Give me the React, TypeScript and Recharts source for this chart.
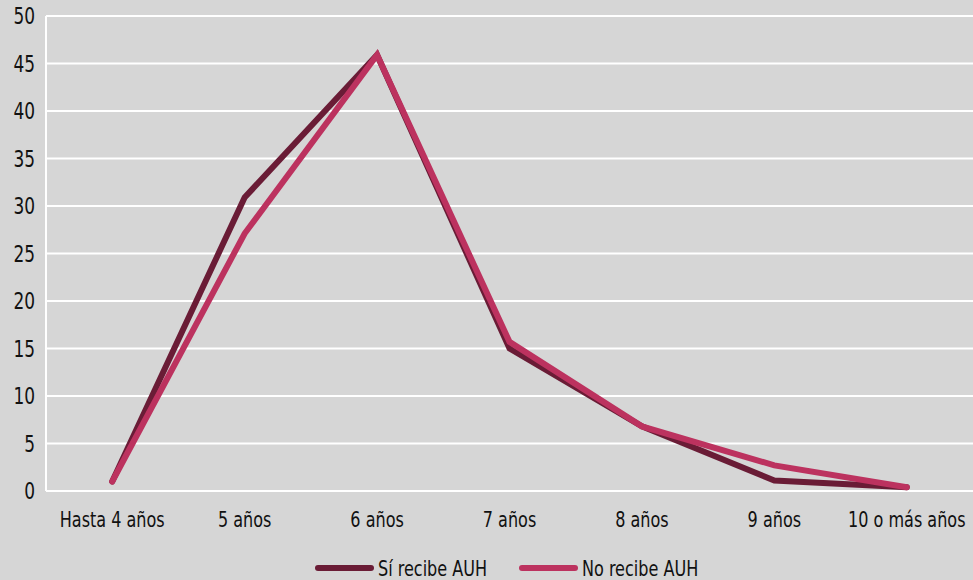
import { LineChart, Line, XAxis, YAxis, CartesianGrid } from 'recharts'

const categories = ['Hasta 4 años', '5 años', '6 años', '7 años', '8 años', '9 años', '10 o más años']
const siRecibe = [1.0, 30.9, 45.9, 15.0, 6.8, 1.1, 0.4]
const noRecibe = [1.0, 27.1, 45.9, 15.7, 6.8, 2.7, 0.4]
const yTicks = [0, 5, 10, 15, 20, 25, 30, 35, 40, 45, 50]
const seriesNames = ['Sí recibe AUH', 'No recibe AUH']

const data = categories.map((c, i) => ({ cat: c, si: siRecibe[i], no: noRecibe[i] }))

const FONT = '"DejaVu Sans Condensed", "DejaVu Sans", sans-serif'
const DARK = '#6a1c36'
const PINK = '#bc325f'

// narrow the condensed font a bit more to look like the original's typeface
function XTick(props: any) {
  const { x, y, payload } = props
  return (
    <text transform={`translate(${x},${y + 36}) scale(0.85,1)`} textAnchor="middle" fontFamily={FONT} fontSize={21} fill="#111">
      {payload.value}
    </text>
  )
}

function YTick(props: any) {
  const { x, y, payload } = props
  return (
    <text transform={`translate(${x - 11},${y + 8}) scale(0.82,1)`} textAnchor="end" fontFamily={FONT} fontSize={23} fill="#111">
      {payload.value}
    </text>
  )
}

function LegendSvg() {
  const items = [
    { label: seriesNames[0], color: DARK, x: 315 },
    { label: seriesNames[1], color: PINK, x: 519 },
  ]
  return (
    <svg width={973} height={40} style={{ position: 'absolute', left: 0, top: 548 }}>
      {items.map((it) => (
        <g key={it.label}>
          <line x1={it.x + 3} y1={20} x2={it.x + 56} y2={20} stroke={it.color} strokeWidth={6} strokeLinecap="round" />
          <text transform={`translate(${it.x + 63},28) scale(0.85,1)`} fontFamily={FONT} fontSize={21} fill="#111">
            {it.label}
          </text>
        </g>
      ))}
    </svg>
  )
}

export default function App() {
  return (
    <div style={{ position: 'absolute', left: 0, top: 0, width: 973, height: 580, background: '#d6d6d6', fontFamily: FONT, fontStretch: 'condensed' }}>
      <LineChart width={973} height={580} data={data} margin={{ top: 16, right: 0, left: 0, bottom: 0 }}>
        <CartesianGrid vertical={false} stroke="#ffffff" strokeWidth={2} />
        <XAxis
          dataKey="cat"
          scale="band"
          axisLine={false}
          tickLine={false}
          tickSize={0}
          tickMargin={0}
          interval={0}
          height={89}
          tick={<XTick />}
        />
        <YAxis
          domain={[0, 50]}
          ticks={yTicks}
          interval={0}
          width={46}
          axisLine={{ stroke: '#ffffff', strokeWidth: 2 }}
          tickLine={false}
          tickSize={0}
          tickMargin={0}
          tick={<YTick />}
        />
        <Line type="linear" dataKey="si" name={seriesNames[0]} stroke={DARK} strokeWidth={6} strokeLinecap="round" dot={false} isAnimationActive={false} />
        <Line type="linear" dataKey="no" name={seriesNames[1]} stroke={PINK} strokeWidth={6} strokeLinecap="round" dot={false} isAnimationActive={false} />
      </LineChart>
      <LegendSvg />
    </div>
  )
}
